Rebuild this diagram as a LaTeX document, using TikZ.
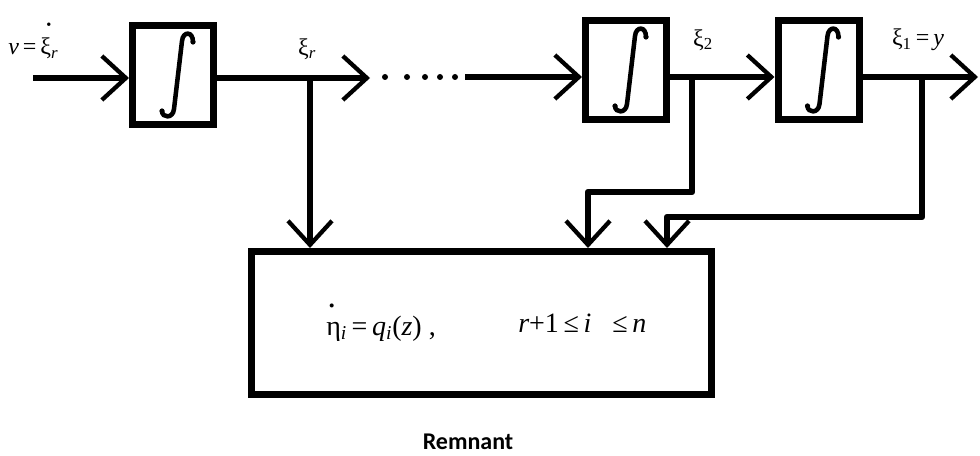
\documentclass[tikz,border=0pt]{standalone}
\usepackage{fontspec}
\usepackage{graphicx}
\setmainfont{Liberation Serif}
\newfontfamily\remfont{Carlito}
\usetikzlibrary{arrows.meta}
\newcommand\dotabove[2]{\makebox[0pt][l]{\kern#1\raisebox{#2}{\scalebox{0.6}{•}}}}
\newcommand\integ[1]{%
  \begin{scope}[shift={(#1.center)}]
    \draw[line width=3.4pt, line cap=round]
      (20,-33) .. controls (20,-44) and (10,-44) .. (9,-34)
      -- (1,34) .. controls (0,44) and (-11,43) .. (-11,36);
    \fill (20,-33) circle (2.6);
    \fill (-11,36) circle (2.6);
  \end{scope}}
\tikzset{
  blk/.style={draw, line width=5.25pt, minimum width=60.75pt, minimum height=74.25pt, inner sep=0pt},
  conn/.style={line width=4.8pt, line join=round},
  arr/.style={conn, -{Straight Barb[length=18pt,width=33pt,line width=3.2pt]}},
  lbl/.style={font=\fontsize{18}{20}\selectfont, inner sep=0pt},
  eqn/.style={font=\fontsize{21}{24}\selectfont, inner sep=0pt, anchor=west},
}
\begin{document}
\begin{tikzpicture}[x=0.75pt,y=-0.75pt]
\useasboundingbox (0,0) rectangle (980,456);
% blocks
\node[blk] (I1) at (173,75) {};
\node[blk] (I2) at (626,70) {};
\node[blk] (I3) at (818.5,70) {};
\node[blk, minimum width=345pt, minimum height=107.25pt] (R) at (481.5,323) {};
\integ{I1}\integ{I2}\integ{I3}
% coordinates
\coordinate (in) at (33,78);
\coordinate (d1) at (370,78);
\coordinate (d2) at (465,77);
\coordinate (out) at (978,77);
\coordinate (b1) at (310,78);
\coordinate (b2) at (692,77);
\coordinate (b2a) at (692,192);
\coordinate (b2b) at (588,192);
\coordinate (b3) at (922,77);
\coordinate (b3a) at (922,217);
\coordinate (b3b) at (667,217);
% main chain
\draw[arr] (in) -- (in -| I1.west);
\draw[arr] (I1.east |- d1) -- (d1);
\foreach \x in {385,407,425,440,455} \fill (\x,77) circle (3);
\draw[arr] (d2) -- (d2 -| I2.west);
\draw[arr] (I2.east |- b2) -- (b2 -| I3.west);
\draw[arr] (I3.east |- out) -- (out);
% feedback branches
\draw[arr] (b1) -- (b1 |- R.north);
\draw[arr] (b2) -- (b2a) -- (b2b) -- (b2b |- R.north);
\draw[arr] (b3) -- (b3a) -- (b3b) -- (b3b |- R.north);
% labels
\node[lbl, anchor=west] (lv) at (8,41) {\itshape v\upshape\,=\,\dotabove{4.5pt}{19pt}ξ\textsubscript{\itshape r}};
\node[lbl] (lxr) at (307,49) {ξ\textsubscript{\itshape r}};
\node[lbl] (lx2) at (703,40) {ξ\textsubscript{2}};
\node[lbl] (lx1) at (918,40) {ξ\textsubscript{1}\,=\,\itshape y};
\node[eqn] (e1) at (326,323) {\dotabove{2pt}{18pt}η\textsubscript{\itshape i}\,=\,\itshape q\textsubscript{i}\upshape(\itshape z\upshape)\ ,};
\node[eqn] (e2) at (518,323) {\itshape r\upshape+1\,≤\,\itshape i\upshape\ \ \ ≤\,\itshape n};
\node[font=\remfont\bfseries\fontsize{18}{20}\selectfont, inner sep=0pt] (rem) at (468,442) {Remnant};
\end{tikzpicture}
\end{document}
